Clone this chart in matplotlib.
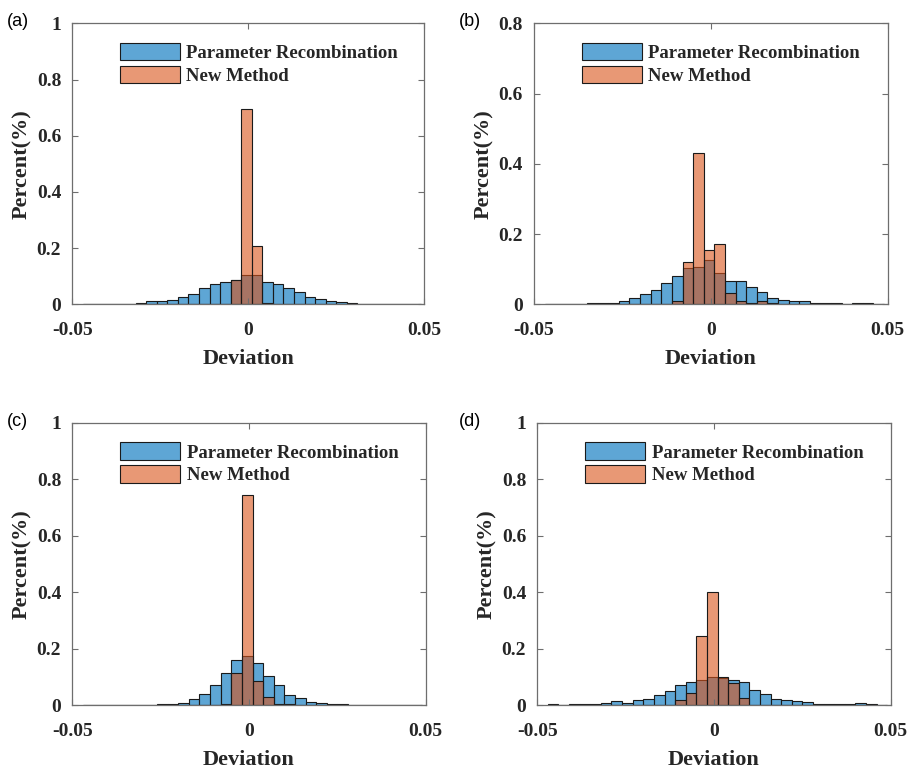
import matplotlib
matplotlib.use("Agg")
import matplotlib.pyplot as plt
import numpy as np
from matplotlib.colors import to_rgba

plt.rcParams['axes.unicode_minus'] = False

# histogram bins (width 0.003), left edges from -0.047 to 0.046
bin_width = 0.003
bin_left = np.round(np.arange(-0.047, 0.0465, bin_width), 4)

# (a)
recomb_a = [0, 0.0005, 0.001, 0.002, 0.002, 0.003, 0.010, 0.012, 0.015, 0.026, 0.037, 0.059,
            0.071, 0.081, 0.085, 0.103, 0.103, 0.078, 0.074, 0.058, 0.043, 0.027, 0.020, 0.012,
            0.008, 0.005, 0.002, 0.001, 0.001, 0.001, 0.0005, 0]
new_a = [0, 0, 0, 0, 0, 0, 0, 0, 0, 0, 0, 0,
         0, 0, 0.088, 0.695, 0.208, 0.005, 0, 0, 0, 0, 0, 0,
         0, 0, 0, 0, 0, 0, 0, 0]

# (b)
recomb_b = [0, 0.002, 0.002, 0.002, 0.003, 0.004, 0.004, 0.010, 0.019, 0.028, 0.040, 0.061,
            0.080, 0.104, 0.105, 0.126, 0.088, 0.065, 0.067, 0.050, 0.034, 0.017, 0.011, 0.010,
            0.008, 0.004, 0.003, 0.003, 0.002, 0.003, 0.003, 0]
new_b = [0, 0, 0, 0, 0, 0, 0, 0, 0, 0, 0, 0.002,
         0.010, 0.120, 0.432, 0.155, 0.173, 0.031, 0.010, 0.005, 0.010, 0.005, 0.002, 0,
         0, 0, 0, 0, 0, 0, 0, 0]

# (c)
recomb_c = [0, 0, 0, 0, 0.001, 0.001, 0.001, 0.002, 0.005, 0.008, 0.021, 0.039,
            0.071, 0.115, 0.158, 0.172, 0.150, 0.103, 0.071, 0.037, 0.026, 0.012, 0.007, 0.004,
            0.002, 0.001, 0.001, 0, 0, 0, 0, 0]
new_c = [0, 0, 0, 0, 0, 0, 0, 0, 0, 0, 0, 0,
         0, 0.002, 0.115, 0.745, 0.085, 0.027, 0.005, 0.003, 0.001, 0, 0, 0,
         0, 0, 0, 0, 0, 0, 0, 0]

# (d)
recomb_d = [0.002, 0.001, 0.003, 0.003, 0.003, 0.008, 0.014, 0.006, 0.017, 0.022, 0.034, 0.051,
            0.070, 0.080, 0.090, 0.098, 0.097, 0.089, 0.083, 0.053, 0.039, 0.020, 0.018, 0.014,
            0.012, 0.003, 0.002, 0.003, 0.002, 0.006, 0.002, 0.001]
new_d = [0, 0, 0, 0, 0, 0, 0, 0, 0, 0, 0, 0,
         0.018, 0.041, 0.245, 0.400, 0.100, 0.077, 0.026, 0, 0, 0, 0, 0,
         0, 0, 0, 0, 0, 0, 0, 0]

panel_labels = ['(a)', '(b)', '(c)', '(d)']
y_tops = [1, 0.8, 1, 1]
series_names = ['Parameter Recombination', 'New Method']

blue = to_rgba('#0072BD', 0.63)
orange = to_rgba('#D95319', 0.6)
edge = '#1a1a1a'
frame = '#6e6e6e'
serif = 'Liberation Serif'

fig = plt.figure(figsize=(9.15, 7.7), dpi=100)
positions = [
    [0.0790, 0.6048, 0.3847, 0.3649],
    [0.5836, 0.6048, 0.3865, 0.3649],
    [0.0790, 0.0844, 0.3862, 0.3667],
    [0.5872, 0.0844, 0.3862, 0.3667],
]
label_xy = [(0.007, 0.983), (0.502, 0.983), (0.007, 0.464), (0.502, 0.464)]
data = [(recomb_a, new_a), (recomb_b, new_b), (recomb_c, new_c), (recomb_d, new_d)]

for i in range(4):
    ax = fig.add_axes(positions[i])
    rec, new = data[i]
    ax.bar(bin_left, rec, width=bin_width, align='edge', color=blue,
           edgecolor=edge, linewidth=0.8, label=series_names[0])
    ax.bar(bin_left, new, width=bin_width, align='edge', color=orange,
           edgecolor=edge, linewidth=0.8, label=series_names[1])
    ax.set_xlim(-0.05, 0.05)
    ax.set_ylim(0, y_tops[i])
    ax.set_xticks([-0.05, 0, 0.05])
    ax.set_xticklabels(['-0.05', '0', '0.05'])
    if y_tops[i] == 1:
        ax.set_yticks([0, 0.2, 0.4, 0.6, 0.8, 1])
        ax.set_yticklabels(['0', '0.2', '0.4', '0.6', '0.8', '1'])
    else:
        ax.set_yticks([0, 0.2, 0.4, 0.6, 0.8])
        ax.set_yticklabels(['0', '0.2', '0.4', '0.6', '0.8'])
    ax.tick_params(direction='in', top=True, right=True, length=4, width=0.8,
                   color=frame, labelcolor='#262626')
    ax.tick_params(axis='x', pad=13)
    ax.tick_params(axis='y', pad=8)
    for lab in ax.get_xticklabels() + ax.get_yticklabels():
        lab.set_fontfamily(serif)
        lab.set_fontweight('bold')
        lab.set_fontsize(14)
    for sp in ax.spines.values():
        sp.set_color(frame)
        sp.set_linewidth(0.9)
    ax.set_xlabel('Deviation', fontfamily=serif, fontweight='bold', fontsize=16,
                  color='#262626', labelpad=7)
    ax.set_ylabel('Percent(%)', fontfamily=serif, fontweight='bold', fontsize=16,
                  color='#262626', labelpad=3)
    leg = ax.legend(loc='upper left', bbox_to_anchor=(0.135, 0.93), frameon=False,
                    handlelength=3.2, handleheight=1.05, handletextpad=0.35,
                    labelspacing=0.2, borderpad=0, borderaxespad=0,
                    prop={'family': serif, 'weight': 'bold', 'size': 13.5})
    for t in leg.get_texts():
        t.set_color('#262626')
    fig.text(label_xy[i][0], label_xy[i][1], panel_labels[i], fontfamily='Liberation Sans',
             fontsize=13, va='top', ha='left')

fig.savefig('out.png', dpi=100)
